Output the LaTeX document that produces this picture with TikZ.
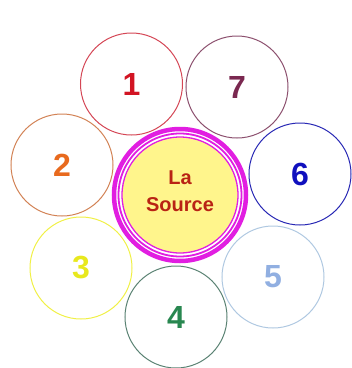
\documentclass[tikz,border=0pt]{standalone}
\usepackage{fontspec}
\setmainfont{Liberation Sans}
\usetikzlibrary{positioning}
\definecolor{c1}{RGB}{210,20,35}
\definecolor{o1}{RGB}{212,70,85}
\definecolor{c7}{RGB}{122,40,80}
\definecolor{o7}{RGB}{140,80,110}
\definecolor{c2}{RGB}{232,106,30}
\definecolor{o2}{RGB}{210,130,85}
\definecolor{c6}{RGB}{16,16,190}
\definecolor{o6}{RGB}{40,40,180}
\definecolor{c3}{RGB}{232,232,30}
\definecolor{o3}{RGB}{240,240,70}
\definecolor{c4}{RGB}{40,135,80}
\definecolor{o4}{RGB}{90,130,115}
\definecolor{c5}{RGB}{145,175,225}
\definecolor{o5}{RGB}{175,200,225}
\definecolor{ringpink}{RGB}{225,30,225}
\definecolor{srcfill}{RGB}{255,245,140}
\definecolor{srctext}{RGB}{185,35,20}

\begin{document}
\begin{tikzpicture}[
    x=1pt, y=-1pt,
    petal/.style={circle, draw=#1, line width=1pt, minimum size=102pt, inner sep=0pt,
        font=\fontsize{32}{32}\selectfont\bfseries},
    source/.style={circle, draw=ringpink, line width=1.3pt, fill=srcfill, minimum size=116pt,
        inner sep=0pt, align=center, text=srctext, text depth=7pt,
        font=\fontsize{20}{24}\selectfont\bfseries},
    ring/.style={draw=ringpink}
]
    \useasboundingbox (0,0) rectangle (352,368);

    % petals round the source
    \node[petal=o1, text=c1] (p1) at (131.5, 84) {1};
    \node[petal=o7, text=c7] (p7) at (237, 87) {7};
    \node[petal=o2, text=c2] (p2) at (62, 165) {2};
    \node[petal=o6, text=c6] (p6) at (300, 174) {6};
    \node[petal=o3, text=c3] (p3) at (81, 268) {3};
    \node[petal=o4, text=c4] (p4) at (176, 317) {4};
    \node[petal=o5, text=c5] (p5) at (273, 277) {5};

    % the source with its rings
    \node[source] (src) at (180, 195) {La\\[3pt]Source};
    \draw[ring, line width=1.8pt] (src.center) circle (61.5);
    \draw[ring, line width=4.5pt] (src.center) circle (66);
\end{tikzpicture}
\end{document}
